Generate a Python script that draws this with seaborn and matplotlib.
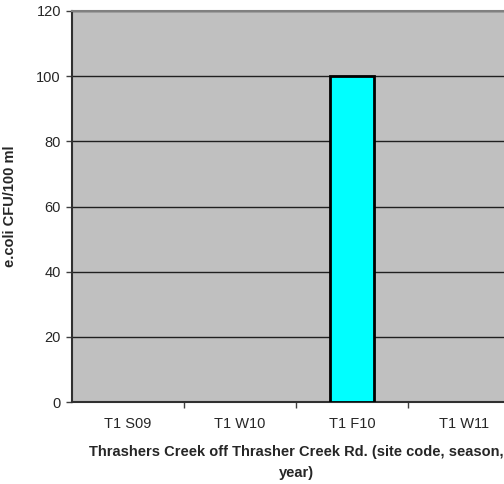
import numpy as np
import matplotlib
matplotlib.use('Agg')
import matplotlib.pyplot as plt
import pandas as pd
import seaborn as sns

sites = ['T1 S09', 'T1 W10', 'T1 F10', 'T1 W11']
ecoli = [0, 0, 100, 0]

sns.set_style('white')
plt.rcParams['font.family'] = ['Liberation Sans', 'DejaVu Sans']

df = pd.DataFrame({'Site': sites, 'Ecoli': ecoli})

fig = plt.figure(figsize=(5.04, 4.84), dpi=100)
fig.patch.set_facecolor('white')
ax = fig.add_axes([72 / 504, 1 - 402 / 484, 448 / 504, 391 / 484])
ax.set_facecolor('#C0C0C0')

sns.barplot(data=df, x='Site', y='Ecoli', color='#00FFFF', width=0.39,
            edgecolor='black', linewidth=2, saturation=1, ax=ax, zorder=3)
# empty samples draw nothing
for p in ax.patches:
    if p.get_height() == 0:
        p.set_visible(False)

ax.set_ylim(0, 120)
ax.set_xlim(-0.5, 3.5)
ax.set_yticks(range(0, 121, 20))
ax.yaxis.grid(True, color='#202020', linewidth=1)
ax.set_axisbelow(True)

# category boundaries ticks on x
ax.set_xticks([0.5, 1.5, 2.5], minor=True)
ax.tick_params(axis='x', which='major', length=0, pad=11, labelsize=10.5)
ax.tick_params(axis='x', which='minor', length=4, width=1, color='#404040', direction='out')
ax.tick_params(axis='y', length=4, width=1, color='#404040', direction='out', labelsize=10.5, pad=4)
ax.xaxis.set_ticks_position('bottom')
ax.yaxis.set_ticks_position('left')
ax.tick_params(axis='x', which='minor', bottom=True)

for s in ['left', 'bottom']:
    ax.spines[s].set_color('#303030')
    ax.spines[s].set_linewidth(1.5)
ax.spines['top'].set_color('#808080')
ax.spines['top'].set_linewidth(1.5)
ax.spines['right'].set_visible(False)

ax.set_xlabel('Thrashers Creek off Thrasher Creek Rd. (site code, season,\nyear)',
              fontsize=10.5, fontweight='bold', labelpad=10, linespacing=1.6)
ax.set_ylabel('e.coli CFU/100 ml', fontsize=10.5, fontweight='bold')
ax.yaxis.set_label_coords(-0.122, 0.5)

fig.savefig('out.png', dpi=100)
